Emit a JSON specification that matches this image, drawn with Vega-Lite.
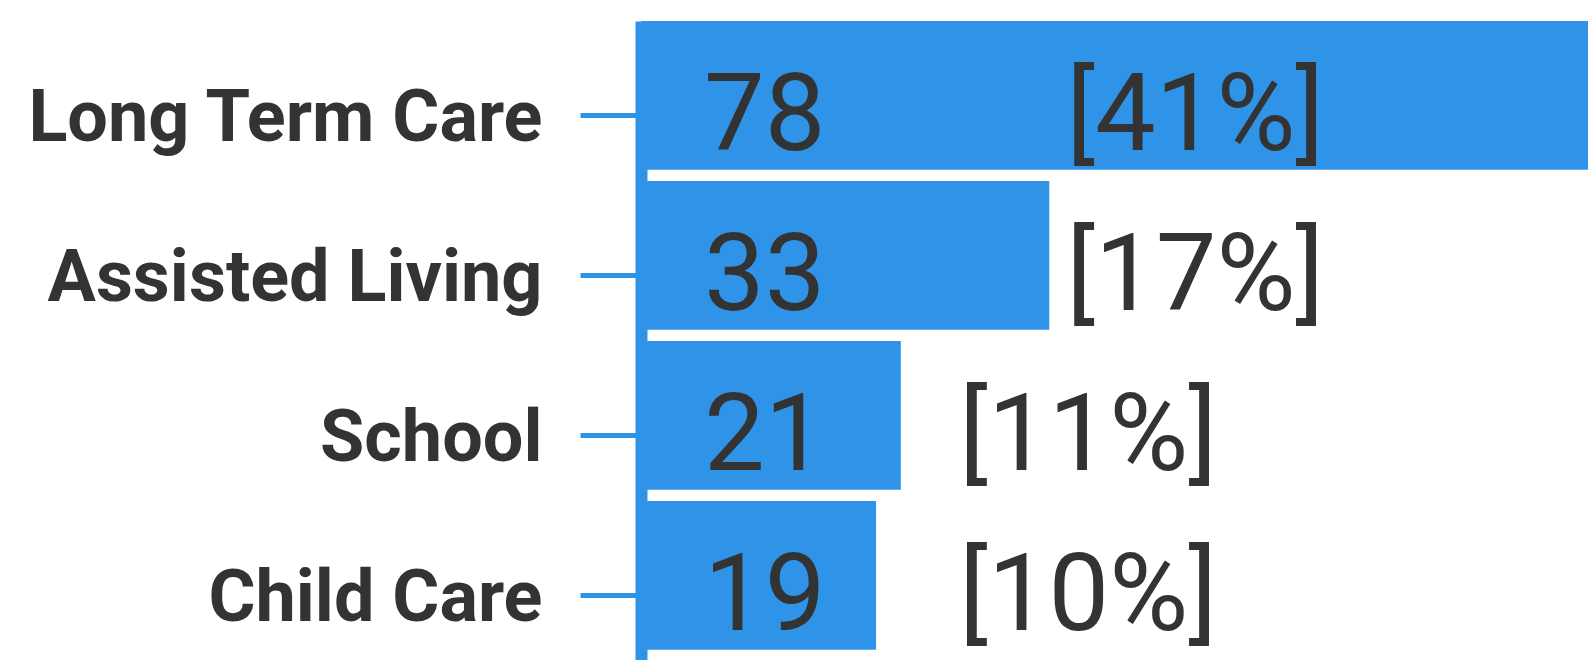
{
  "$schema": "https://vega.github.io/schema/vega-lite/v6.json",
  "width": 965,
  "height": 660.8,
  "autosize": {"type": "none"},
  "padding": {"left": 641, "top": 21, "right": 0, "bottom": 0},
  "background": "white",
  "config": {"view": {"stroke": null}, "font": "Roboto"},
  "data": {
    "values": [
      {"category": "Long Term Care", "n": 78, "pct": "41%", "label": "78\u00a0\u00a0\u00a0\u00a0\u00a0\u00a0\u00a0\u00a0\u00a0[41%]"},
      {"category": "Assisted Living", "n": 33, "pct": "17%", "label": "33\u00a0\u00a0\u00a0\u00a0\u00a0\u00a0\u00a0\u00a0\u00a0[17%]"},
      {"category": "School", "n": 21, "pct": "11%", "label": "21\u00a0\u00a0\u00a0\u00a0\u00a0[11%]"},
      {"category": "Child Care", "n": 19, "pct": "10%", "label": "19\u00a0\u00a0\u00a0\u00a0\u00a0[10%]"}
    ]
  },
  "encoding": {
    "y": {
      "field": "category",
      "type": "nominal",
      "sort": null,
      "scale": {"paddingInner": 0.07, "paddingOuter": 0.1, "align": 0},
      "axis": {
        "title": null,
        "labelFont": "Roboto",
        "labelFontWeight": "bold",
        "labelFontSize": 72,
        "labelColor": "#333333",
        "labelLimit": 1000,
        "labelPadding": 38,
        "labelOffset": 3,
        "tickSize": 61,
        "tickWidth": 5,
        "tickColor": "#2f94e8",
        "domainColor": "#2f94e8",
        "domainWidth": 12,
        "tickOffset": 20
      }
    }
  },
  "layer": [
    {
      "mark": {"type": "bar", "color": "#2f94e8"},
      "encoding": {
        "x": {"field": "n", "type": "quantitative", "scale": {"domain": [0, 78], "nice": false}, "axis": null}
      }
    },
    {
      "mark": {"type": "text", "align": "left", "baseline": "alphabetic", "dx": 63, "dy": 55, "fontSize": 108, "color": "#333333", "font": "Roboto"},
      "encoding": {
        "x": {"datum": 0, "type": "quantitative"},
        "text": {"field": "label"}
      }
    }
  ]
}
